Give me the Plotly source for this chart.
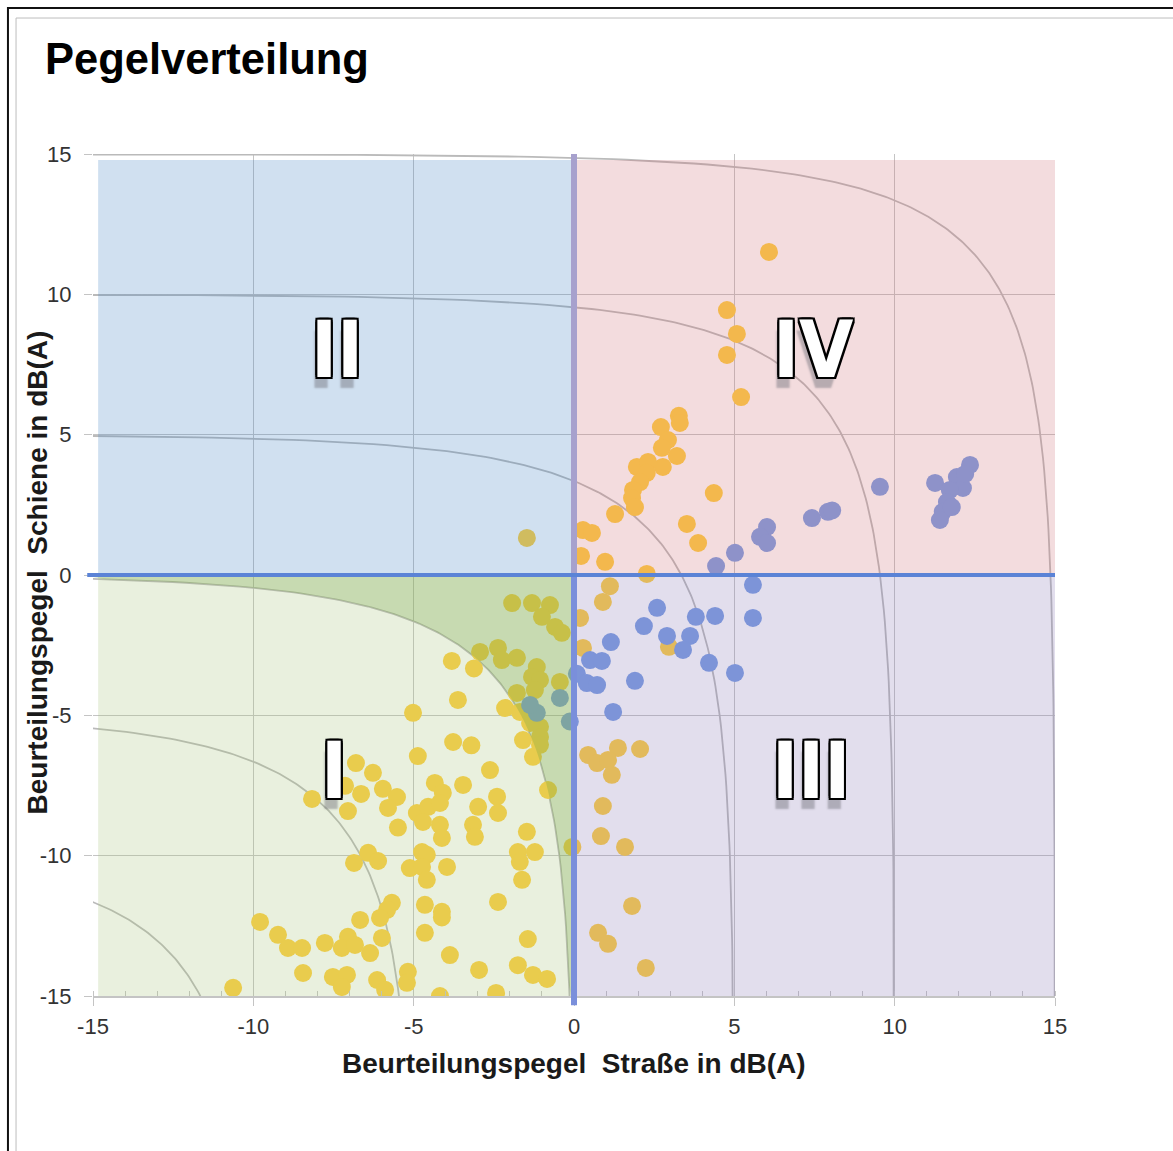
import numpy as np
import plotly.graph_objects as go

# Beurteilungspegel-Differenzen je Immissionsort in dB(A)
# Gruppe A (gelbe Punkte): x = Straße, y = Schiene
gelb_x = [6.08, 4.77, 5.08, 4.77, 5.21, 3.27, 3.30, 2.71, 2.93, 2.74, 3.21, 2.77, 1.96, 2.31,
          2.27, 2.06, 1.84, 1.81, 1.90, 4.36, 1.28, 0.28, 0.56, 3.52, 3.87, 0.22, 0.97, 2.27,
          1.12, 0.90, 0.19, 0.28, 2.96, 0.44, 0.72, 1.37, 2.06, 1.06, 1.18, 0.90, 0.84, 1.59,
          1.81, 0.75, 1.06, 2.24,
          -1.47,
          -1.93, -1.31, -0.75, -1.00, -0.59, -0.38, -2.93, -2.37, -2.25, -1.78, -3.12, -1.16,
          -1.31, -1.06, -0.44, -1.22, -1.78, -2.15, -1.69, -1.06, -1.06, -1.59, -1.06, -1.28,
          -3.20, -2.62, -0.81, -2.40, -2.99, -2.37, -3.81, -3.62, -5.02, -3.77, -4.87, -6.80,
          -6.27, -7.14, -6.64, -5.96, -5.52, -8.17, -7.05, -5.80, -4.34, -4.09, -3.46, -4.90,
          -4.55, -4.18, -4.71, -4.18, -5.49, -3.15, -1.47, -4.12, -3.09, -1.75, -1.22, -1.69,
          -1.62, -6.86, -6.42, -6.11, -5.12, -4.74, -4.59, -4.74, -4.59, -3.96, -2.37, -4.65,
          -4.12, -4.12, -5.68, -5.83, -6.67, -6.05, -5.99, -4.65, -9.79, -9.23, -8.92, -8.48,
          -7.77, -7.05, -7.24, -6.83, -6.36, -3.87, -2.96, -1.75, -1.44, -1.28, -0.84, -8.45,
          -7.52, -7.08, -7.24, -6.14, -5.89, -5.18, -5.21, -10.63, -4.18, -2.43, -0.05, -1.37]
gelb_y = [11.51, 9.44, 8.59, 7.84, 6.34, 5.67, 5.42, 5.27, 4.81, 4.53, 4.24, 3.85, 3.85, 4.03,
          3.64, 3.31, 3.03, 2.74, 2.42, 2.92, 2.17, 1.60, 1.50, 1.82, 1.14, 0.68, 0.47, 0.04,
          -0.40, -0.96, -1.53, -2.60, -2.56, -6.41, -6.70, -6.16, -6.20, -6.59, -7.12, -8.23,
          -9.30, -9.69, -11.79, -12.75, -13.14, -14.00,
          1.32,
          -1.00, -1.00, -1.07, -1.49, -1.85, -2.06, -2.74, -2.60, -3.03, -2.95, -3.33, -3.28,
          -3.63, -3.74, -3.81, -4.10, -4.20, -4.74, -4.88, -5.41, -5.77, -5.88, -6.05, -6.48,
          -6.07, -6.95, -7.66, -7.90, -8.26, -8.48, -3.06, -4.45, -4.91, -5.95, -6.45, -6.70,
          -7.05, -7.51, -7.80, -7.62, -7.91, -7.98, -8.41, -8.30, -7.41, -7.76, -7.48, -8.48,
          -8.26, -8.12, -8.80, -8.90, -9.00, -8.90, -9.15, -9.37, -9.33, -9.87, -9.87, -10.22,
          -10.86, -10.26, -9.90, -10.19, -10.44, -9.87, -9.97, -10.40, -10.86, -10.40, -11.65, -11.75,
          -12.00, -12.20, -11.68, -11.93, -12.29, -12.22, -12.93, -12.75, -12.36, -12.82, -13.29, -13.29,
          -13.11, -12.89, -13.29, -13.18, -13.47, -13.54, -14.07, -13.90, -12.97, -14.25, -14.39, -14.18,
          -14.32, -14.25, -14.68, -14.43, -14.78, -14.14, -14.53, -14.71, -15.00, -14.89, -9.69, -5.27]

# Gruppe B (blaue Punkte)
blau_x = [9.54, 7.42, 7.92, 8.05, 11.26, 12.35, 11.94, 12.13, 11.72, 11.63, 11.50, 11.41, 11.78,
          12.20, 6.02, 5.80, 6.02, 5.02, 4.43, 5.58, 5.58, 2.59, 2.18, 3.80, 4.40, 3.62, 2.90,
          3.40, 1.15, 4.21, 5.02, 1.90, 0.50, 0.87, 0.09, 0.40, 0.72, 1.22, -0.13, -0.44, -1.16,
          -1.37]
blau_y = [3.14, 2.03, 2.25, 2.30, 3.28, 3.92, 3.49, 3.10, 3.03, 2.60, 2.25, 1.96, 2.42,
          3.60, 1.71, 1.36, 1.14, 0.79, 0.32, -0.35, -1.53, -1.17, -1.82, -1.49, -1.46, -2.17, -2.17,
          -2.67, -2.39, -3.13, -3.49, -3.77, -3.03, -3.06, -3.52, -3.85, -3.92, -4.88, -5.22, -4.38, -4.91,
          -4.63]

# Linien gleichen Summenpegels in dB(A)
summenpegel = [-10, -5, 0, 5, 10, 15]
achsen_ticks = [-15, -10, -5, 0, 5, 10, 15]
achsen_labels = ["-15", "-10", "-5", "0", "5", "10", "15"]
quadrant_text = ["I", "II", "III", "IV"]
quadrant_x = [-7.5, -7.4, 7.4, 7.45]
quadrant_y = [-7.0, 8.0, -7.0, 8.0]

FONT = "Liberation Sans, Arial, sans-serif"
GELB = "rgb(255,207,62)"
BLAU = "rgb(120,156,227)"
GRID = "#c4c4c4"


def isolinie(pegel):
    """Energetische Aufteilung eines Summenpegels auf Straße und Schiene."""
    e = 10 ** (pegel / 10)
    p = np.concatenate([np.logspace(-6, -1, 120), np.linspace(0.1, 0.9, 120)[1:-1],
                        1 - np.logspace(-1, -6, 120)])
    return 10 * np.log10(p * e), 10 * np.log10((1 - p) * e)


fig = go.Figure()

for c in summenpegel:
    lx, ly = isolinie(c)
    fig.add_trace(go.Scatter(x=lx, y=ly, mode="lines", hoverinfo="skip",
                             line=dict(color="#bababa", width=1.8), showlegend=False))

fig.add_trace(go.Scatter(x=gelb_x, y=gelb_y, mode="markers", showlegend=False,
                         marker=dict(size=18, color=GELB, line=dict(width=0))))
fig.add_trace(go.Scatter(x=blau_x, y=blau_y, mode="markers", showlegend=False,
                         marker=dict(size=18, color=BLAU, line=dict(width=0))))

# halbtransparente Quadrantenflächen über den Punkten
quadrant_flaechen = [
    (-14.84, -0.09, 0.07, 14.79, "rgba(68,131,195,0.25)"),
    (0.09, 15, 0.07, 14.79, "rgba(207,115,123,0.25)"),
    (-14.84, -0.09, -15, -0.07, "rgba(167,195,123,0.25)"),
    (0.09, 15, -15, -0.07, "rgba(139,123,183,0.25)"),
]
shapes = []
for x0, x1, y0, y1, col in quadrant_flaechen:
    shapes.append(dict(type="rect", xref="x", yref="y", x0=x0, x1=x1, y0=y0, y1=y1,
                       fillcolor=col, line=dict(width=0), layer="above"))

# Bereich, in dem der Summenpegel unter 0 dB(A) bleibt
bx, by = isolinie(0)
sel = (bx >= -15) & (by >= -15)
bx, by = bx[sel][::-1], by[sel][::-1]
pfad = "M -15,-0.07 L -0.09,-0.07 L -0.09,-15 "
pfad += " ".join(f"L {x:.4f},{y:.4f}" for x, y in zip(bx, by)) + " Z"
shapes.append(dict(type="path", xref="x", yref="y", path=pfad,
                   fillcolor="rgba(110,160,60,0.28)", line=dict(width=0), layer="above"))

# Achsenkreuz bei 0
shapes.append(dict(type="line", xref="x", yref="y domain", x0=0, x1=0, y0=-0.011, y1=0.5,
                   line=dict(color="#7a8fdb", width=6), layer="above"))
shapes.append(dict(type="line", xref="x", yref="y domain", x0=0, x1=0, y0=0.5, y1=1,
                   line=dict(color="#a7a1cd", width=6), layer="above"))
shapes.append(dict(type="line", xref="x domain", yref="y", x0=-0.006, x1=1, y0=0, y1=0,
                   line=dict(color="#5b83d6", width=4), layer="above"))

# Rahmen
shapes.append(dict(type="rect", xref="paper", yref="paper", x0=-0.0884, x1=1.3, y0=-0.4, y1=1.1734,
                   line=dict(color="#111111", width=2), fillcolor="rgba(0,0,0,0)", layer="below"))
shapes.append(dict(type="rect", xref="paper", yref="paper", x0=-0.0800, x1=1.3, y0=-0.4, y1=1.1615,
                   line=dict(color="#bdbdbd", width=1), fillcolor="rgba(0,0,0,0)", layer="below"))

annotations = []
umriss = ", ".join(f"{dx}px {dy}px 0 #000" for dx, dy in
                   [(2, 0), (-2, 0), (0, 2), (0, -2), (2, 2), (-2, -2), (2, -2), (-2, 2)])
umriss += ", -3px 11px 2px rgba(110,110,120,0.45)"
for t, qx, qy in zip(quadrant_text, quadrant_x, quadrant_y):
    annotations.append(dict(x=qx, y=qy, xref="x", yref="y", text=t, showarrow=False,
                            font=dict(family="Liberation Sans Narrow, DejaVu Sans Condensed, sans-serif",
                                      size=78, color="white", weight="bold", shadow=umriss)))

annotations.append(dict(xref="paper", yref="paper", x=0.5, y=-0.0796, xanchor="center", yanchor="middle",
                        text="<b>Beurteilungspegel  Straße in dB(A)</b>", showarrow=False,
                        font=dict(family=FONT, size=28, color="#1a1a1a")))
annotations.append(dict(xref="paper", yref="paper", x=-0.0582, y=0.503, xanchor="center", yanchor="middle",
                        text="<b>Beurteilungspegel  Schiene in dB(A)</b>", showarrow=False, textangle=-90,
                        font=dict(family=FONT, size=28, color="#1a1a1a")))

fig.update_layout(
    width=1173, height=1151,
    margin=dict(l=93, r=118, t=154, b=155),
    paper_bgcolor="white", plot_bgcolor="white",
    title=dict(text="<b>Pegelverteilung</b>", x=45 / 1173, xanchor="left", xref="container",
               y=1 - 59 / 1151, yanchor="middle", yref="container",
               font=dict(family=FONT, size=43.5, color="#000000")),
    xaxis=dict(range=[-15, 15], tickvals=achsen_ticks, ticktext=achsen_labels,
               showgrid=True, gridcolor=GRID, gridwidth=1,
               zeroline=False, showline=True, linecolor=GRID, linewidth=1.5,
               ticks="outside", ticklen=8, tickcolor=GRID, ticklabelstandoff=2,
               minor=dict(dtick=1, ticks="inside", ticklen=5, tickcolor=GRID, showgrid=False),
               tickfont=dict(family=FONT, size=22, color="#333333")),
    yaxis=dict(range=[-15, 15], tickvals=achsen_ticks, ticktext=achsen_labels,
               showgrid=True, gridcolor=GRID, gridwidth=1,
               zeroline=False, showline=False, ticks="outside", ticklen=8, tickcolor=GRID,
               ticklabelstandoff=8, tickfont=dict(family=FONT, size=22, color="#333333")),
    shapes=shapes,
    annotations=annotations,
    showlegend=False,
)

fig.write_html("out.html")
